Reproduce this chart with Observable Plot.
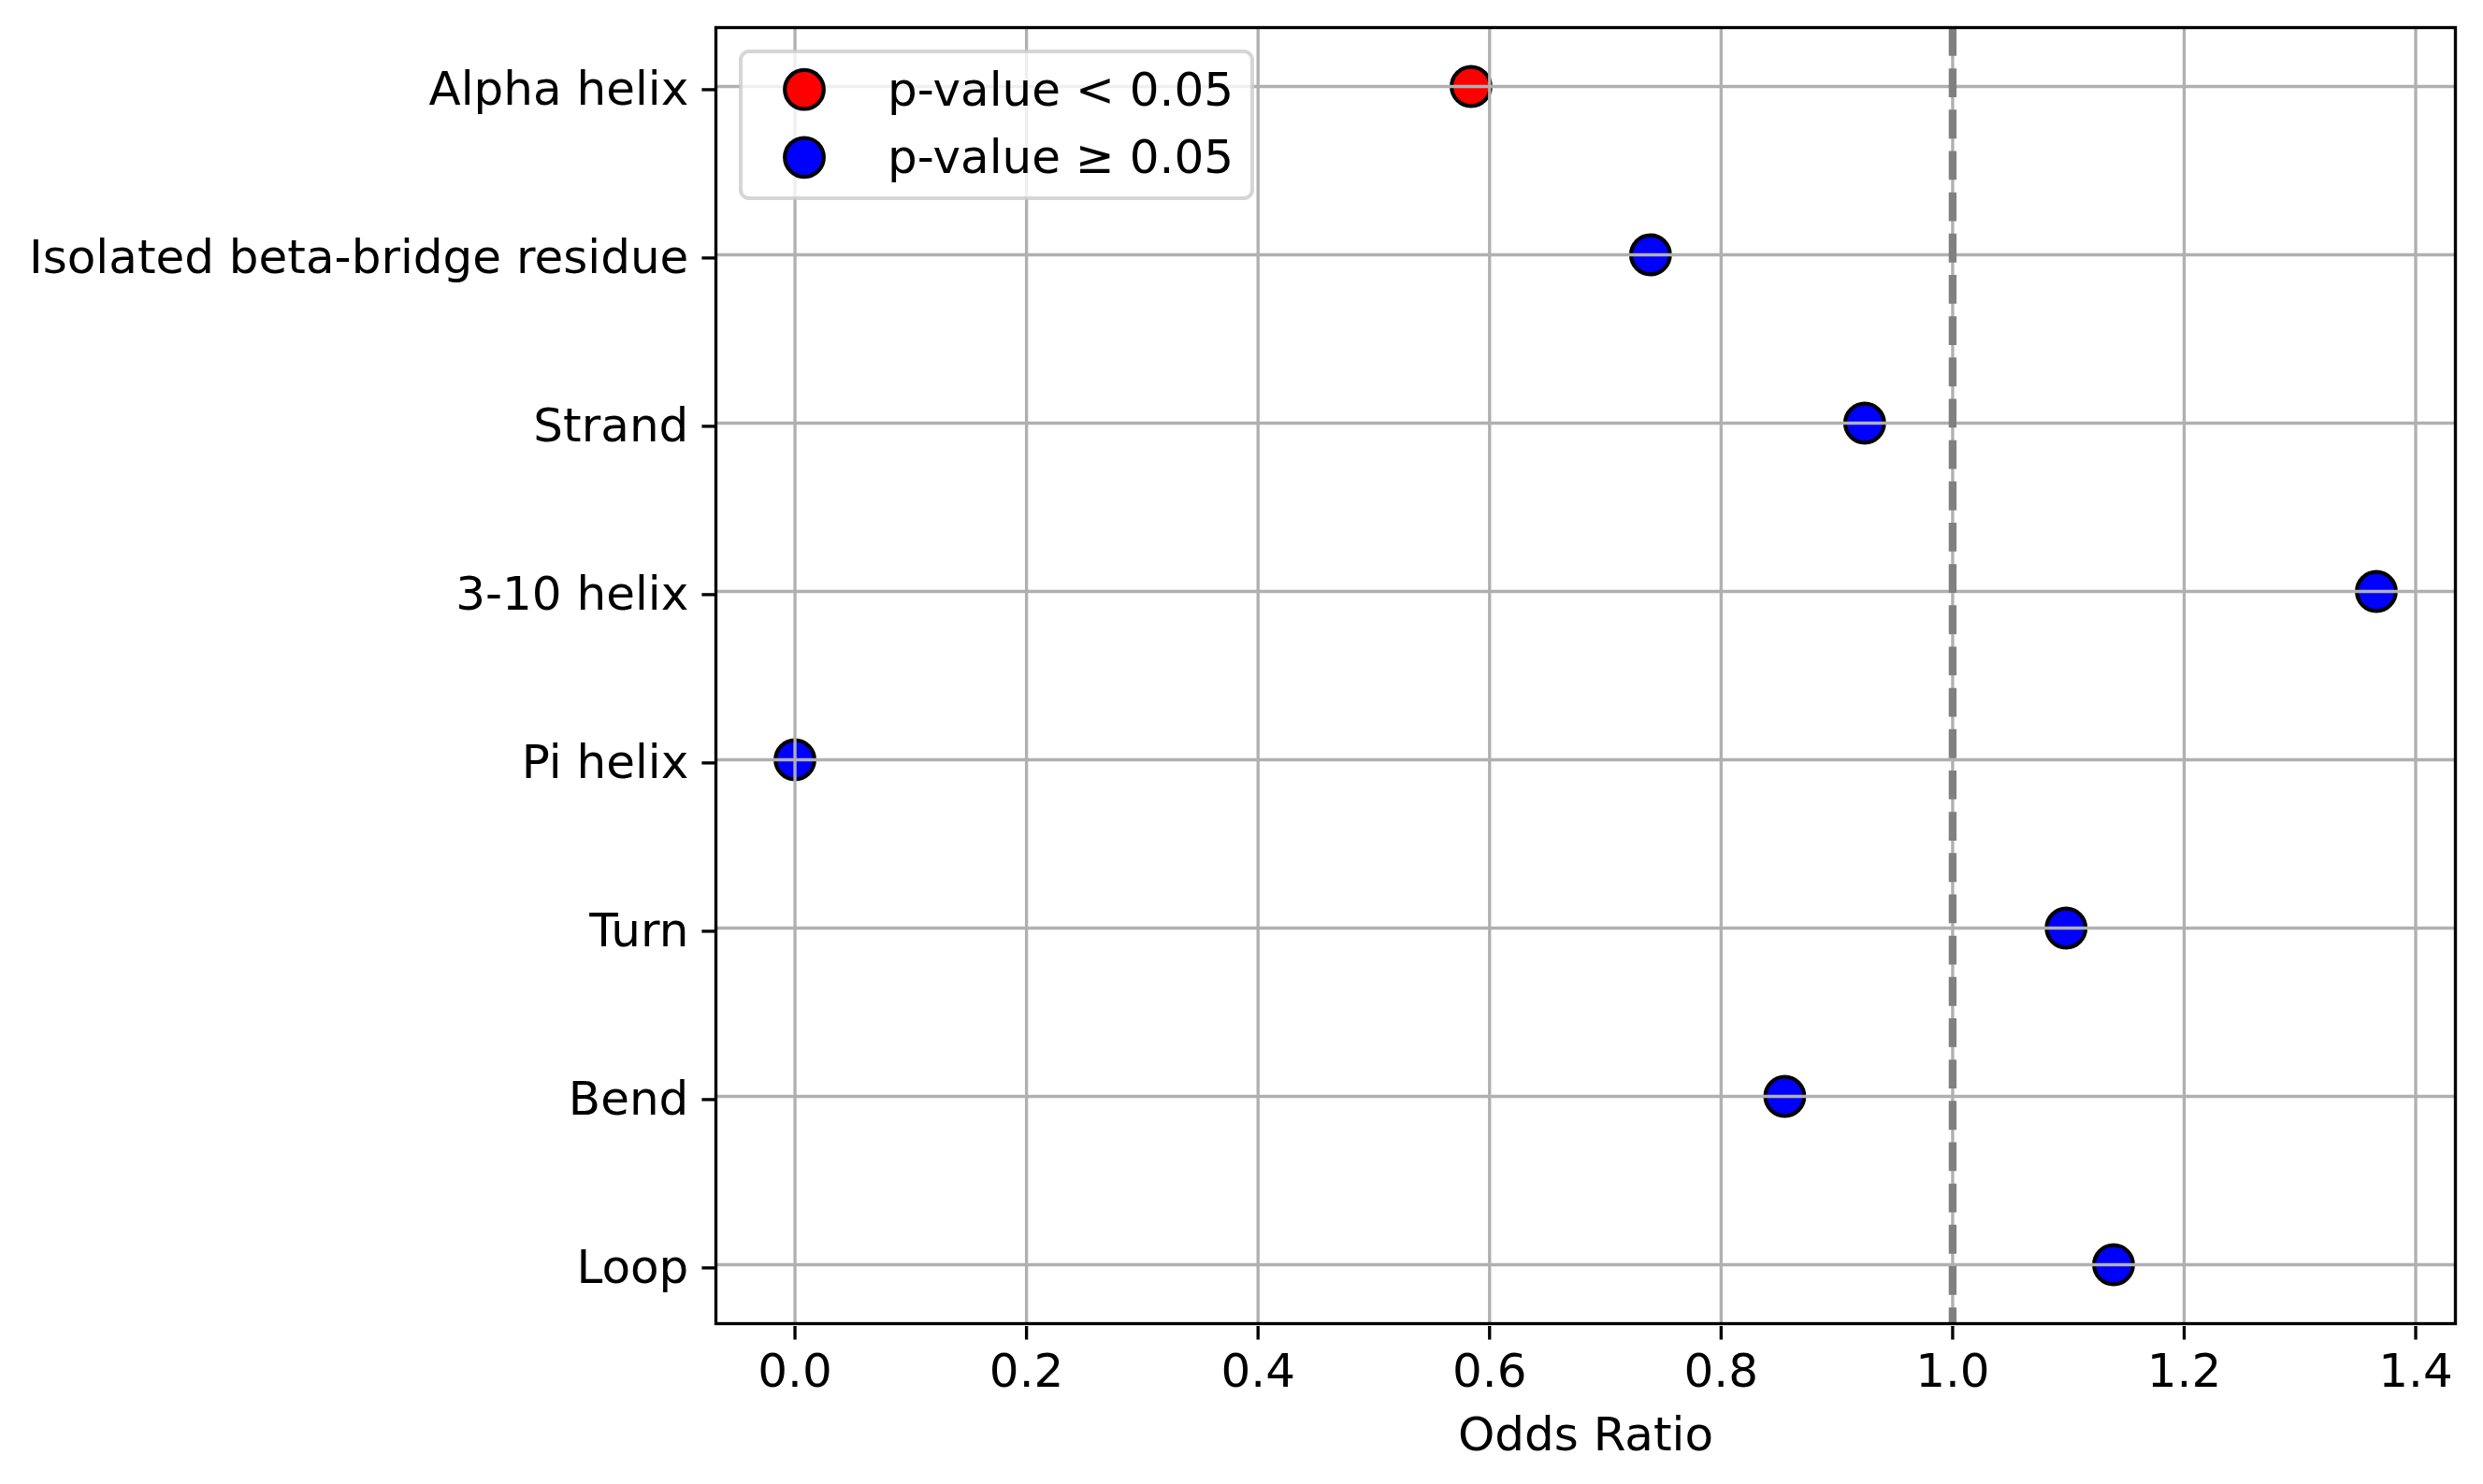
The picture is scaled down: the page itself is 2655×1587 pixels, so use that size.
<!DOCTYPE html>
<html>
<head>
<meta charset="utf-8">
<script src="https://cdn.jsdelivr.net/npm/d3@7"></script>
<script src="https://cdn.jsdelivr.net/npm/@observablehq/plot@0.6"></script>
<style>
  html, body { margin: 0; padding: 0; background: #ffffff; }
  #wrap { position: relative; width: 2655px; height: 1587px; font-family: "DejaVu Sans", sans-serif; color: #000; }
  #legend { position: absolute; left: 790px; top: 53px; }
</style>
</head>
<body>
<div id="wrap"></div>
<script>
// ---- data ----
const categories = ["Alpha helix", "Isolated beta-bridge residue", "Strand", "3-10 helix", "Pi helix", "Turn", "Bend", "Loop"];
const oddsRatios = [0.584, 0.739, 0.924, 1.366, 0.0, 1.098, 0.855, 1.139];
const significance = ["p-value < 0.05", "p-value ≥ 0.05", "p-value ≥ 0.05", "p-value ≥ 0.05", "p-value ≥ 0.05", "p-value ≥ 0.05", "p-value ≥ 0.05", "p-value ≥ 0.05"];
const legendLabels = ["p-value < 0.05", "p-value ≥ 0.05"];
const legendColors = ["red", "blue"];
const xTicks = [0.0, 0.2, 0.4, 0.6, 0.8, 1.0, 1.2, 1.4];
const referenceLine = [1.0];
const xLabel = "Odds Ratio";

const rows = categories.map((c, i) => ({category: c, or: oddsRatios[i], sig: significance[i]}));

const PT = 300 / 72; // px per point
const font = "DejaVu Sans";

const chart = Plot.plot({
  width: 2655,
  height: 1587,
  marginLeft: 765,
  marginRight: 30,
  marginTop: 29,
  marginBottom: 172,
  style: {fontFamily: font, fontSize: "50px", color: "#000", background: "#fff", overflow: "visible"},
  x: {domain: [-0.0683, 1.4343], ticks: xTicks, tickFormat: d3.format(".1f"), label: xLabel},
  y: {type: "point", domain: categories, padding: 0.35},
  color: {domain: legendLabels, range: legendColors},
  marks: [
    Plot.dot(rows, {x: "or", y: "category", fill: "sig", r: 5 * PT, stroke: "black", strokeWidth: 1 * PT}),
    Plot.gridX(xTicks, {stroke: "#b0b0b0", strokeOpacity: 1, strokeWidth: 0.8 * PT}),
    Plot.gridY(categories, {stroke: "#b0b0b0", strokeOpacity: 1, strokeWidth: 0.8 * PT}),
    Plot.ruleX(referenceLine, {stroke: "#808080", strokeWidth: 2 * PT, strokeDasharray: `${3.7 * 2 * PT},${1.6 * 2 * PT}`}),
    Plot.frame({stroke: "black", strokeWidth: 0.8 * PT}),
    Plot.axisX(xTicks, {
      tickSize: 3.5 * PT, tickPadding: 3.5 * PT, strokeWidth: 0.8 * PT, fontSize: 50, dy: 3,
      tickFormat: d3.format(".1f"), label: null
    }),
    Plot.axisX({
      ticks: [], tickSize: 0, label: xLabel, labelAnchor: "center", labelArrow: "none", labelOffset: 135, fontSize: 50
    }),
    Plot.axisY(categories, {
      tickSize: 3.5 * PT, tickPadding: 3.5 * PT, strokeWidth: 0.8 * PT, fontSize: 50, dy: 3.4, label: null
    })
  ]
});

const wrap = document.getElementById("wrap");
wrap.appendChild(chart);

// ---- legend (inside the axes, upper left) ----
const lw = 551, lh = 161;
const leg = d3.select(wrap).append("svg")
  .attr("id", "legend")
  .attr("width", lw).attr("height", lh)
  .style("font-family", font);
leg.append("rect")
  .attr("x", 2).attr("y", 2).attr("width", lw - 4).attr("height", lh - 4)
  .attr("rx", 9).attr("ry", 9)
  .attr("fill", "white").attr("fill-opacity", 0.8)
  .attr("stroke", "#cccccc").attr("stroke-opacity", 0.8).attr("stroke-width", 1 * PT);
const rowGap = 72.6, firstRow = 42.7;
const item = leg.selectAll("g.item").data(legendLabels).join("g")
  .attr("class", "item")
  .attr("transform", (d, i) => `translate(0,${firstRow + i * rowGap})`);
item.append("circle")
  .attr("cx", 70).attr("cy", 0).attr("r", 5 * PT)
  .attr("fill", (d, i) => legendColors[i])
  .attr("stroke", "black").attr("stroke-width", 1 * PT);
item.append("text")
  .attr("x", 159).attr("y", 17)
  .attr("font-size", 50)
  .attr("fill", "#000")
  .text(d => d);
</script>
</body>
</html>
